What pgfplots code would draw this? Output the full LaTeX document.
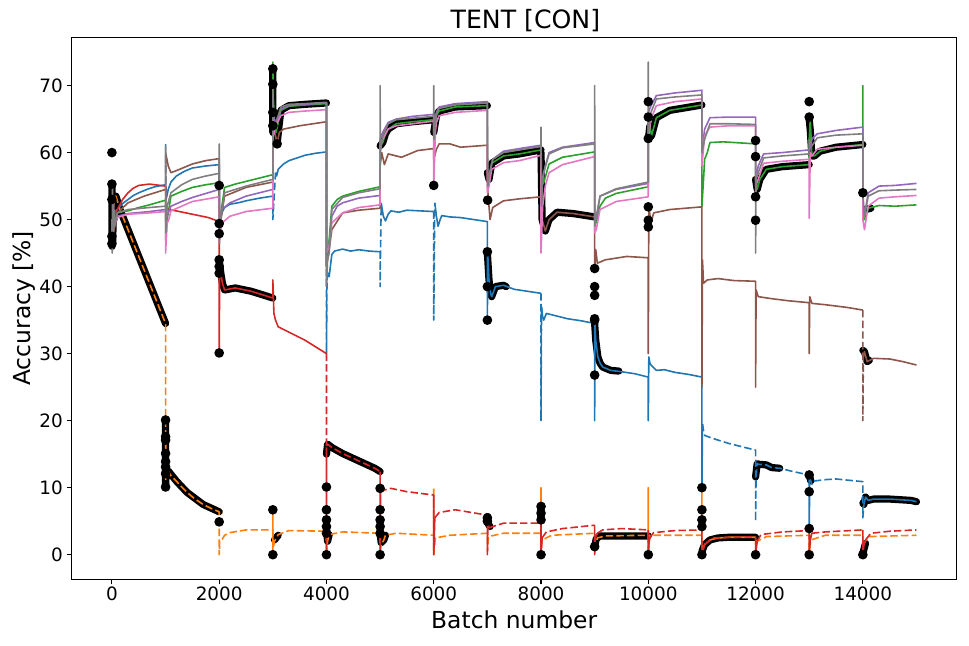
\documentclass[border=0pt]{standalone}
\usepackage{fontspec}
\setmainfont{DejaVu Sans}
\usepackage{pgfplots}
\pgfplotsset{compat=1.18}
\definecolor{c0}{HTML}{1F77B4}
\definecolor{c1}{HTML}{FF7F0E}
\definecolor{c2}{HTML}{2CA02C}
\definecolor{c3}{HTML}{D62728}
\definecolor{c4}{HTML}{9467BD}
\definecolor{c5}{HTML}{8C564B}
\definecolor{c6}{HTML}{E377C2}
\definecolor{c7}{HTML}{7F7F7F}
\begin{document}
\begin{tikzpicture}
\path[use as bounding box] (-35.85pt,-33.35pt) rectangle (448.65pt,289.65pt);
\begin{axis}[
 scale only axis, width=442.5pt, height=271pt,
 xmin=-750, xmax=15750, ymin=-3.67, ymax=77.2,
 xtick={0,2000,...,14000}, ytick={0,10,...,70},
 scaled x ticks=false,
 /pgf/number format/1000 sep={},
 /pgf/number format/assume math mode=true,
 tick align=outside, major tick length=2.5pt,
 tick style={black, line width=0.55pt},
 xtick pos=lower, ytick pos=left,
 axis line style={line width=0.55pt},
 ticklabel style={font=\fontsize{9.2}{11}\selectfont},
 xticklabel style={anchor=base, inner sep=0pt, yshift=-8pt},
 yticklabel style={anchor=east, inner sep=0pt, xshift=-1.7pt},
 title={TENT [CON]},
 every axis title/.style={at={([xshift=5.6pt,yshift=4.15pt]axis description cs:0.5,1)}, anchor=base, font=\fontsize{12.6}{15}\selectfont},
 xlabel={Batch number},
 every axis x label/.style={at={([yshift=-24.5pt]axis description cs:0.5,0)}, anchor=base, font=\fontsize{11.7}{14}\selectfont},
 ylabel={Accuracy [\%]},
 every axis y label/.style={at={([xshift=-20.35pt]axis description cs:0,0.5)}, rotate=90, anchor=base, font=\fontsize{11.7}{14}\selectfont},
 unbounded coords=jump,
 every axis plot/.append style={line width=0.8pt, line join=round},
 dsh/.style={dash pattern=on 3.7pt off 1.6pt},
]
% black highlight bands
\addplot[black, line width=3.6pt, line cap=round] coordinates {
(0,55)(3,46)(8,53.5)(15,46.5)(25,52)(40,50)(75,53.5)(150,51.5)(1000,34.5)(1000,nan)
(1000,20)(1000,10)(1010,12)(1050,12.5)(1200,11)(1400,9.3)(1700,7.5)(2000,6.4)(2000,nan)
(2000,44)(2030,42)(2060,40.5)(2100,39.5)(2300,39.8)(2600,39.3)(3000,38.3)(3000,nan)
(3000,72.5)(3000,63)(3020,66)(3050,62.5)(3080,61.3)(3110,63.6)(3150,66.3)(3300,67)(3600,67.2)(4000,67.4)(4000,nan)
(3030,2.2)(3100,2.9)(3100,nan)
(4000,4)(4020,2)(4050,3)(4050,nan)
(4000,15)(4020,16.5)(4100,16)(4300,15.1)(4600,14)(4900,12.9)(5000,12.4)(5000,nan)
(5000,3.2)(5020,1.8)(5070,2.2)(5100,2.9)(5100,nan)
(5000,61)(5050,61.5)(5100,62.8)(5150,63.5)(5300,64.3)(5600,64.6)(6000,64.9)(6000,nan)
(6000,63)(6050,65.5)(6100,66.2)(6400,66.8)(7000,67)(7000,nan)
(7000,45)(7030,41)(7060,39)(7080,38.5)(7150,40)(7300,40.2)(7350,40)(7350,nan)
(7000,5.7)(7020,4.5)(7050,4.2)(7050,nan)
(7000,57)(7030,56)(7080,58.4)(7300,59.5)(7600,59.8)(8000,60.4)(8000,nan)
(8000,60)(8020,50)(8080,48.3)(8150,50)(8300,51.1)(8600,50.9)(9000,50.4)(9000,nan)
(8000,7.2)(8000,5.2)(8000,nan)
(9000,34.5)(9020,32)(9060,29.5)(9100,28.6)(9150,28)(9300,27.5)(9450,27.4)(9450,nan)
(9000,1.2)(9030,2.4)(9100,2.8)(10000,2.8)(10000,nan)
(10000,62)(10030,64)(10060,62.5)(10150,65.2)(10400,66.3)(11000,67.1)(11000,nan)
(11000,0.5)(11050,1.5)(11150,2.2)(11300,2.5)(11500,2.6)(12000,2.6)(12000,nan)
(12000,56)(12030,54.5)(12080,56)(12200,57.5)(12500,57.9)(13000,58.2)(13000,nan)
(12000,11.6)(12030,13.6)(12050,13.5)(12200,13.4)(12300,13)(12450,12.9)(12450,nan)
(13000,65)(13020,63.3)(13050,59.5)(13100,59.5)(13200,60.2)(13500,60.8)(14000,61.2)(14000,nan)
(13000,11.9)(13030,11)(13030,nan)
(14000,30.5)(14030,30.3)(14080,28.8)(14120,29)(14120,nan)
(14000,7.7)(14020,7.5)(14050,8.6)(14100,8.1)(14200,8.3)(14500,8.3)(14700,8.2)(14900,8.1)(15000,7.9)(15000,nan)
(14050,51.5)(14150,51.7)(14150,nan)
(14000,0.2)(14050,1.7)
};
% black isolated markers
\addplot[only marks, mark=*, mark size=2pt, black] coordinates {
(0,60)(0,55.3)(0,53)(0,47.5)(0,46.4)
(1000,20.1)(1000,17.6)(1000,17.1)(1000,15.1)(1000,13.9)(1000,13.1)(1000,12.1)(1000,10.1)
(2000,55.1)(2000,49.4)(2000,47.9)(2000,44)(2000,43)(2000,42)(2000,30.1)(2000,4.9)
(3000,72.5)(3000,70.2)(3000,66)(3000,64)(3000,6.7)(3000,0)(3080,61.3)
(4000,10.1)(4000,6.7)(4000,5.2)(4000,4.2)(4000,3.2)(4000,0)
(5000,9.9)(5000,6.7)(5000,5.2)(5000,4.2)(5000,3.2)(5000,0)
(6000,55.1)
(7000,45.2)(7000,40)(7000,35)(7000,5.5)(7000,5)(7005,52.9)
(8000,7.2)(8000,6.2)(8000,5.2)(8000,0)
(9000,35)(9000,26.8)(9000,42.7)(9000,40)(9000,38.7)(9000,35.2)(9000,1.2)
(10000,67.6)(10000,65.3)(10000,62.1)(10000,51.9)(10000,49.9)(10000,48.9)(10000,0)
(11000,10)(11000,6.7)(11000,5.2)(11000,4.2)(11000,0)
(12000,61.8)(12000,59.4)(12000,53.4)(12000,49.9)(12000,0)
(13000,67.6)(13000,65.3)(13000,11.9)(13000,9.4)(13000,3.9)(13000,0)
(14000,54)(14000,0)
};
% blue
\addplot[c0] coordinates {
(0,50)(15,47)(30,49)(60,51)(100,51.5)(200,52.4)(300,53)(400,53.6)(500,54)(650,54.5)(800,54.9)(1000,55.2)(1000,nan)
(1010,53)(1050,54.5)(1100,55.6)(1200,56.5)(1350,57.2)(1500,57.7)(1750,58)(2000,58.2)(2000,50)(2050,51)(2100,51.8)(2200,52.3)(2350,52.5)(2500,52.8)(2750,53.2)(3000,53.5)(3000,nan)
(3050,57)(3070,56.5)(3100,57.5)(3200,58.3)(3300,58.8)(3450,59.2)(3600,59.6)(3800,59.9)(4000,60.1)(4000,nan)
(4010,41)(4030,42)(4050,41.5)(4100,44.8)(4150,45.3)(4300,45.6)(4450,45.3)(4600,45.5)(4800,45.3)(5000,45.2)(5000,nan)
(5020,52.5)(5060,50.5)(5100,49.8)(5150,50.8)(5200,51.3)(5350,51.1)(5500,51.4)(5750,51.3)(6000,51.2)(6000,nan)
(6020,52.5)(6050,50.5)(6080,49)(6120,50)(6150,50.6)(6300,50.4)(6500,50.3)(6750,50)(7000,49.7)(7000,35)(7005,45)(7030,41)(7060,39)(7080,38.5)(7150,40)(7300,40.2)(7500,39.6)(7750,39.3)(8000,39)(8000,nan)
(8010,37)(8030,35.5)(8050,35)(8100,36)(8200,35.8)(8350,35.5)(8500,35.2)(8750,34.9)(9000,34.5)(9000,20)(9005,34.5)(9020,32)(9060,29.5)(9100,28.6)(9150,28)(9300,27.5)(9500,27.3)(9750,27)(10000,26.5)(10000,20)(10010,29.5)(10030,28.6)(10050,28.3)(10150,27.5)(10300,27.6)(10500,27.2)(10750,26.9)(11000,26.5)(11000,10)(11010,19.5)(11010,nan)
(13000,11.9)(13000,3.7)(13010,11.5)(13010,nan)
(14020,7.5)(14050,8.6)(14100,8.1)(14200,8.3)(14500,8.3)(14700,8.2)(14900,8.1)(15000,7.9)
};
\addplot[c0, dsh] coordinates {
(1000,55.2)(1000,61.4)(1010,53)(1010,nan)
(3000,53.5)(3000,50)(3050,57)(3050,nan)
(4000,60.1)(4000,30)(4010,41)(4010,nan)
(5000,45.2)(5000,40)(5020,52.5)(5020,nan)
(6000,51.2)(6000,35)(6020,52.5)(6020,nan)
(8000,39)(8000,20)(8010,37)(8010,nan)
(11010,19.5)(11030,18.5)(11050,17.8)(11150,17.5)(11300,17.1)(11500,16.6)(11750,16.1)(12000,15.6)(12000,5)(12010,11.5)(12030,13.6)(12050,13.5)(12200,13.4)(12300,13)(12450,12.9)(12700,12.4)(13000,11.9)(13000,nan)
(13010,11.5)(13050,10.5)(13100,11)(13300,11.2)(13500,11.3)(13750,11.1)(14000,10.9)(14000,5.5)(14020,7.5)
};
% orange
\addplot[c1, dsh] coordinates {
(0,50)(10,47)(20,52)(40,52.5)(75,53.5)(150,51.5)(400,46.5)(700,40.5)(1000,34.5)(1000,11)(1005,17)(1010,12)(1050,12.5)(1100,11.8)(1200,11)(1300,10.1)(1400,9.3)(1550,8.3)(1700,7.5)(1850,6.9)(2000,6.4)(2000,0)(2010,2)(2050,2.2)(2100,2.9)(2200,3.3)(2500,3.7)(3000,3.7)
(3010,1)(3030,2)(3100,3)(3300,3.6)(4000,3.5)(4000,0)(4020,2)(4050,3)(4300,3.4)(5000,3.2)(5000,0)(5020,1.5)(5070,2.2)(5100,2.9)(5300,3.2)(6000,2.9)(6000,10)(6000,0)(6030,2.5)(6300,2.9)(7000,3.2)(7000,0.5)(7020,2.7)(7300,3.2)(8000,3.2)(8000,10)(8000,0)(8020,2.2)(8200,2.9)(9000,3.2)(9000,1)(9050,2.5)(9200,2.8)(10000,2.9)(10000,10)(10000,0)(10030,2.9)(11000,2.9)(11000,nan)
(12000,2.6)(12000,0.5)(12030,2)(12200,2.7)(13000,2.9)(13000,0.5)(13030,2.2)(13300,2.9)(14000,2.9)(14000,0.5)(14030,1.8)(14100,2.7)(15000,2.9)
};
\addplot[c1] coordinates {
(3000,0)(3000,6.7)(3000,nan)
(11000,2.9)(11000,10)(11000,0.5)(11050,1.5)(11150,2.2)(11300,2.5)(11500,2.6)(12000,2.6)
};
% green
\addplot[c2] coordinates {
(0,50)(15,48)(30,49)(100,51)(200,51.2)(300,51.3)(500,51.8)(700,52.2)(1000,52.9)(1000,47)(1030,50)(1100,53.5)(1300,54.2)(1500,54.8)(1750,55.2)(2000,55.5)(2000,48)(2050,52)(2100,54.8)(2300,55.3)(2500,55.7)(2750,56.2)(3000,56.7)(3000,73.5)(3010,68)(3030,65)(3060,63)(3100,64.5)(3150,66.3)(3300,66.9)(3600,67.1)(4000,67.3)(4000,43)(4050,47)(4100,52)(4200,53)(4300,53.5)(4600,54.2)(5000,54.9)(5000,61)(5050,61.5)(5100,62.8)(5150,63.5)(5300,64.3)(5600,64.6)(6000,64.9)(6000,63)(6050,65.5)(6100,66.2)(6400,66.8)(7000,67)(7000,57)(7030,56)(7080,58.4)(7300,59.5)(7600,59.8)(8000,60.4)(8000,55)(8050,55.5)(8150,58.3)(8400,59.3)(9000,60.1)(9000,50)(9030,49.5)(9100,52)(9200,53.2)(9400,53.9)(10000,54.9)(10000,62)(10030,64)(10060,62.5)(10150,65.2)(10400,66.3)(11000,67.1)(11000,52)(11030,56)(11050,59)(11100,60)(11150,61.5)(11400,61.6)(12000,61.3)(12000,56)(12030,54.5)(12080,56)(12200,57.5)(12500,57.9)(13000,58.2)(13000,62)(13020,65)(13050,59.5)(13100,59.5)(13200,60.2)(13500,60.8)(14000,61.2)(14000,70)(14005,50)(14030,50)(14100,51.7)(14300,52.1)(14600,52)(15000,52.2)
};
% red
\addplot[c3] coordinates {
(0,50)(15,48)(30,49)(75,51.4)(100,51.5)(200,53)(300,54)(400,54.7)(500,55.1)(700,55.3)(1000,55)(1000,52)(1050,51.5)(1200,51.3)(1500,50.8)(1800,50.3)(2000,49.7)(2000,30.1)(2010,44)(2030,42)(2060,40.5)(2100,39.5)(2300,39.8)(2600,39.3)(3000,38.3)(3000,41)(3020,36)(3050,35)(3100,34)(3200,33.6)(3300,33.2)(3600,32)(3800,31)(4000,30)(4000,nan)
(4000,16)(4000,0)(4000,nan)
(5000,12.4)(5000,0)(5010,10)(5010,nan)
(6000,8.9)(6000,0)(6020,5.5)(6020,nan)
(7000,5.9)(7000,0)(7010,5)(7030,4)(7030,nan)
(8000,4.7)(8000,0)(8020,2.5)(8020,nan)
(9000,4.4)(9000,0)(9010,2.5)(9050,3.2)(9050,nan)
(10000,3.7)(10000,0)(10020,2.5)(10020,nan)
(11000,3.7)(11000,0)(11050,1.5)(11050,nan)
(12000,2.7)(12000,0)(12030,2)(12030,nan)
(13000,3.6)(13000,0)(13020,2.2)(13050,3.2)(13050,nan)
(14000,3.7)(14000,0)(14020,1.5)(14050,2.2)
};
\addplot[c3, dsh] coordinates {
(4000,30)(4000,16)(4020,16.5)(4100,16)(4300,15.1)(4600,14)(4900,12.9)(5000,12.4)(5000,nan)
(5010,10)(5050,9.6)(5200,9.9)(5500,9.4)(6000,8.9)(6000,nan)
(6020,5.5)(6100,6.3)(6400,6.7)(7000,5.9)(7000,nan)
(7030,4)(7100,4.2)(7300,4.7)(8000,4.7)(8000,nan)
(8020,2.5)(8100,3.4)(8400,3.9)(9000,4.4)(9000,nan)
(9050,3.2)(9150,3.7)(9500,3.9)(10000,3.7)(10000,nan)
(10020,2.5)(10100,3.3)(10500,3.6)(11000,3.7)(11000,nan)
(11050,1.5)(11200,2.5)(12000,2.7)(12000,nan)
(12030,2)(12100,3)(12500,3.4)(13000,3.6)(13000,nan)
(13050,3.2)(13300,3.4)(14000,3.7)(14000,nan)
(14050,2.2)(14150,3.2)(14500,3.5)(15000,3.7)
};
% purple
\addplot[c4] coordinates {
(0,50)(15,48.5)(30,49)(100,50.5)(300,50.9)(700,51.2)(1000,51.5)(1000,50)(1050,51)(1100,52)(1300,52.7)(1500,53.3)(1750,53.9)(2000,54.5)(2000,48)(2050,51.5)(2200,52.5)(2500,53.5)(2750,54)(3000,54.5)(3000,66)(3050,64)(3100,65)(3150,66.5)(3300,67)(3600,67.2)(4000,67.4)(4000,44)(4050,46)(4100,50.5)(4200,52)(4300,52.5)(4600,53.2)(5000,53.6)(5000,62)(5050,63)(5150,64.5)(5300,65)(5600,65.4)(6000,65.7)(6000,64)(6050,66)(6100,66.8)(6400,67.3)(7000,67.6)(7000,56)(7030,56.5)(7100,59)(7300,60.2)(7600,60.6)(8000,61.1)(8000,50)(8030,56)(8080,58)(8150,60)(8400,60.8)(9000,61.5)(9000,50)(9030,50)(9100,53.5)(9400,54.5)(10000,55.4)(10000,66)(10050,67)(10150,68.5)(10500,68.9)(11000,69.3)(11000,60)(11050,63.5)(11150,65.2)(11500,65.3)(12000,65.3)(12000,56)(12050,58)(12150,59.8)(12500,60)(13000,60.4)(13000,60)(13050,62)(13150,62.8)(13500,63.3)(14000,63.8)(14000,52)(14050,51.5)(14100,54)(14300,55)(14600,55.1)(15000,55.4)
};
% brown
\addplot[c5] coordinates {
(0,50)(15,47.5)(30,48)(100,51)(300,52.5)(600,53.5)(1000,54.5)(1000,60)(1050,58)(1100,57)(1200,57.3)(1500,58.3)(1750,58.8)(2000,59.1)(2000,48)(2050,51)(2100,53.5)(2500,54.8)(3000,55.6)(3000,64)(3050,62.5)(3080,61.3)(3120,63)(3200,63.5)(3500,64)(4000,64.6)(4000,43)(4050,45.5)(4100,48.5)(4300,51)(4600,51.4)(5000,51.7)(5000,58)(5030,60)(5080,58.2)(5150,59.8)(5400,59.3)(5700,60.3)(6000,60.6)(6000,59)(6050,60.5)(6100,61.3)(6300,61.3)(6500,60.8)(7000,61.1)(7000,55)(7030,52)(7050,50)(7100,51.8)(7300,52.8)(7600,53.1)(8000,53.4)(8000,60)(8020,50)(8080,48.3)(8150,50)(8300,51.1)(8600,50.9)(9000,50.4)(9000,42.5)(9020,45.5)(9050,43.5)(9200,44)(9600,44.5)(10000,44.3)(10000,30)(10010,52)(10050,49.5)(10100,51)(10400,51.5)(11000,51.9)(11000,25)(11010,44)(11030,40.5)(11100,41)(11300,41.2)(11600,40.9)(12000,40.8)(12000,25)(12010,39.5)(12050,38.5)(12300,38.2)(12600,37.9)(13000,37.6)(13000,30)(13010,38.5)(13050,37.5)(13300,37.3)(13700,36.9)(14000,36.5)(14000,nan)
(14010,29.5)(14030,30.3)(14080,28.8)(14200,29.3)(14500,29.2)(14750,28.8)(15000,28.3)
};
\addplot[c5, dsh] coordinates {(14000,36.5)(14000,20)(14010,29.5)};
% pink
\addplot[c6] coordinates {
(0,50)(15,48)(30,49)(100,50.3)(300,50.8)(700,51)(1000,51.2)(1000,45)(1030,49.5)(1060,50)(1100,51.3)(1300,52)(1500,52.7)(2000,53.4)(2000,47)(2050,49.5)(2200,50.5)(2500,51.2)(3000,51.7)(3000,62)(3050,64)(3150,65.5)(3300,66)(3600,66.2)(4000,66.4)(4000,45)(4050,46)(4100,49.5)(4300,51)(4600,51.8)(5000,52.2)(5000,61)(5050,62)(5150,63.5)(5300,64)(6000,64.7)(6000,55)(6030,63)(6050,64.5)(6100,65.5)(6400,66)(7000,66.3)(7000,54)(7030,55)(7080,57.5)(7300,58.5)(7600,58.8)(8000,59.6)(8000,45)(8030,52)(8080,55)(8150,57)(8400,58.2)(9000,59.4)(9000,48)(9030,48.5)(9100,51.5)(9400,52.7)(10000,53.4)(10000,62)(10050,65)(10150,67)(10500,67.6)(11000,68)(11000,58)(11050,62.5)(11150,63.8)(11500,64)(12000,64)(12000,55)(12050,56)(12150,58.4)(12500,58.7)(13000,59)(13000,50.2)(13020,60)(13050,59.5)(13150,60.5)(13500,60.8)(14000,61.1)(14000,50)(14030,48.5)(14100,52)(14300,53.2)(14600,53.4)(15000,53.6)
};
% gray
\addplot[c7] coordinates {
(0,50)(5,45)(10,55)(20,47)(30,53)(50,49)(100,51)(300,51.5)(700,51.8)(1000,52)(1000,61)(1005,48)(1030,52)(1100,54)(1300,55.2)(1500,56)(1750,56.5)(2000,56.9)(2000,61.3)(2005,46.4)(2030,50)(2100,54)(2500,55)(3000,56)(3000,70)(3010,64)(3050,64.5)(3100,65.5)(3150,66.8)(3300,67.2)(3600,67.3)(4000,67.5)(4000,40)(4020,44)(4050,45)(4100,51.5)(4300,53.3)(4600,54)(5000,54.6)(5000,70)(5005,60)(5050,62.5)(5150,64.3)(5300,64.9)(6000,65.4)(6000,70)(6005,62)(6050,65.8)(6100,66.6)(6400,67.1)(7000,67.4)(7000,65)(7010,55)(7030,56.4)(7100,59)(7300,60)(7600,60.4)(8000,60.9)(8000,63.8)(8010,52)(8020,55)(8050,57)(8150,59.8)(8400,60.7)(9000,61.3)(9000,70)(9005,49)(9020,50)(9100,53.5)(9400,54.6)(10000,55.6)(10000,73.5)(10005,63)(10050,66)(10150,68)(10500,68.3)(11000,68.6)(11000,60)(11050,62)(11150,64.3)(11500,64.3)(12000,64.2)(12000,45)(12010,56)(12050,57)(12150,59.2)(12500,59.5)(13000,59.8)(13000,62)(13050,61)(13150,62.2)(13500,62.6)(14000,62.8)(14000,54)(14030,50.5)(14100,53.5)(14300,54.3)(14600,54.4)(15000,54.5)
};
\end{axis}
\end{tikzpicture}
\end{document}
